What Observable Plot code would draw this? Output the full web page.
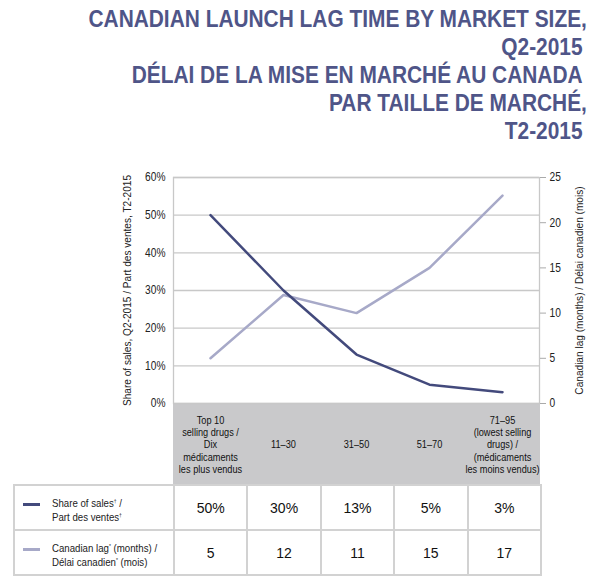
<!DOCTYPE html>
<html>
<head>
<meta charset="utf-8">
<script src="https://cdn.jsdelivr.net/npm/d3@7"></script>
<script src="https://cdn.jsdelivr.net/npm/@observablehq/plot@0.6"></script>
<style>
  body { margin:0; background:#fff; width:600px; height:587px; position:relative; overflow:hidden;
         font-family:"Liberation Sans", Arial, sans-serif; }
  #title { position:absolute; right:13px; top:5px; text-align:right; color:#4f5588; font-weight:bold;
           font-size:24px; line-height:28px; }
  #title div { display:block; transform:scaleX(0.87); transform-origin:right center; white-space:nowrap; }
  #title div.nc { padding-right:5px; }
  #band { position:absolute; left:173px; top:403px; width:367px; height:81px; background:#c9c9cb; }
  #chart { position:absolute; left:0; top:150px; }
  table { position:absolute; left:13px; top:484px; border-collapse:collapse; table-layout:fixed; width:527px; }
  td { border:2px solid #d2d2d2; height:43px; padding:0; text-align:center; font-size:14px; color:#111; }
  td.leg { text-align:left; position:relative; font-size:11.5px; line-height:12px; color:#222; }
  .sw { position:absolute; left:8px; top:17px; width:17px; height:3px; }
  .lt { position:absolute; left:37px; top:9px; transform:scaleX(0.84); transform-origin:left top; white-space:nowrap; }
  sup { font-size:6px; vertical-align:4px; }
</style>
</head>
<body>
<div id="title"></div>
<div id="band"></div>
<div id="chart"></div>
<table id="tbl"></table>
<script>
// ---- data ----
const titleLines = [
  "CANADIAN LAUNCH LAG TIME BY MARKET SIZE,",
  "Q2-2015",
  "DÉLAI DE LA MISE EN MARCHÉ AU CANADA",
  "PAR TAILLE DE MARCHÉ,",
  "T2-2015"
];
const categories = [
  "Top 10\nselling drugs /\nDix\nmédicaments\nles plus vendus",
  "11–30",
  "31–50",
  "51–70",
  "71–95\n(lowest selling\ndrugs) /\n(médicaments\nles moins vendus)"
];
const shareOfSales = [50, 30, 13, 5, 3];          // % (left axis)
const lagPlotted   = [5, 12, 10, 15, 23];         // months as drawn (right axis)
const shareLabels  = ["50%", "30%", "13%", "5%", "3%"];
const lagLabels    = ["5", "12", "11", "15", "17"];
const leftTicks    = [0, 10, 20, 30, 40, 50, 60];
const rightTicks   = [0, 5, 10, 15, 20, 25];
const leftLabel  = "Share of sales, Q2-2015 / Part des ventes, T2-2015";
const rightLabel = "Canadian lag (months) / Délai canadien (mois)";

const darkColor = "#434a7c";
const lightColor = "#a7a9c8";

// ---- title ----
document.getElementById("title").innerHTML =
  titleLines.map(t => `<div class="${t.endsWith(",") ? "" : "nc"}">${t}</div>`).join("");

// ---- chart ----
const k = 60 / 25; // right axis mapped onto left scale
const rows = categories.map((c, i) => ({cat: c, share: shareOfSales[i], lag: lagPlotted[i]}));

const chart = Plot.plot({
  width: 600,
  height: 334,
  marginTop: 27,
  marginBottom: 81,
  marginLeft: 173,
  marginRight: 61,
  style: {fontFamily: `"Liberation Sans", Arial, sans-serif`, fontSize: "12px", color: "#222", background: "transparent", overflow: "visible"},
  x: {type: "point", domain: categories, padding: 0.5, axis: null},
  y: {domain: [0, 60], axis: null},
  marks: [
    Plot.ruleY(leftTicks, {stroke: "#c8c8c8", strokeWidth: 1.3}),
    Plot.frame({stroke: "#c8c8c8", strokeWidth: 1.3}),
    Plot.axisY(leftTicks, {anchor: "left", tickSize: 0, tickPadding: 8, tickFormat: d => d + "%", fontSize: 12, label: null}),
    Plot.axisY(rightTicks.map(v => v * k), {anchor: "right", tickSize: 6, tickPadding: 4, stroke: "#aaa",
      tickFormat: d => String(Math.round(d / k)), fontSize: 12, label: null}),
    Plot.text([leftLabel], {frameAnchor: "left", dx: -46, rotate: -90, textAnchor: "middle", text: d => d,
      fontSize: 11, fill: "#222"}),
    Plot.text([rightLabel], {frameAnchor: "right", dx: 40, rotate: -90, textAnchor: "middle", text: d => d,
      fontSize: 11, fill: "#222"}),
    Plot.line(rows, {x: "cat", y: d => d.lag * k, stroke: lightColor, strokeWidth: 2.5}),
    Plot.line(rows, {x: "cat", y: "share", stroke: darkColor, strokeWidth: 2.5}),
    Plot.text(categories, {x: d => d, frameAnchor: "bottom", dy: 41, text: d => d, lineAnchor: "middle",
      fontSize: 11.5, lineHeight: 1.07, fill: "#111"})
  ]
});
document.getElementById("chart").appendChild(chart);

// condense texts horizontally (about their own anchor) to mimic the narrow face of the original
const catFlat = categories.map(c => c.replace(/\n/g, ""));
chart.querySelectorAll("text").forEach(el => {
  const content = el.textContent;
  let s;
  if (content === leftLabel || content === rightLabel) s = 0.92;
  else if (catFlat.includes(content)) s = 0.8;
  else s = 0.85;
  const x = parseFloat(el.getAttribute("x")) || 0;
  const t = el.getAttribute("transform") || "";
  el.setAttribute("transform", `${t} translate(${x},0) scale(${s},1) translate(${-x},0)`);
});

// ---- table ----
const tbl = document.getElementById("tbl");
const colg = `<colgroup><col style="width:160px">${categories.map(() => '<col style="width:73.4px">').join("")}</colgroup>`;
const row1 = `<tr><td class="leg"><span class="sw" style="background:${darkColor}"></span><span class="lt">Share of sales<sup>†</sup> /<br>Part des ventes<sup>†</sup></span></td>${shareLabels.map(v => `<td>${v}</td>`).join("")}</tr>`;
const row2 = `<tr><td class="leg"><span class="sw" style="background:${lightColor}"></span><span class="lt">Canadian lag<sup>*</sup> (months) /<br>Délai canadien<sup>*</sup> (mois)</span></td>${lagLabels.map(v => `<td>${v}</td>`).join("")}</tr>`;
tbl.innerHTML = colg + row1 + row2;
</script>
</body>
</html>
